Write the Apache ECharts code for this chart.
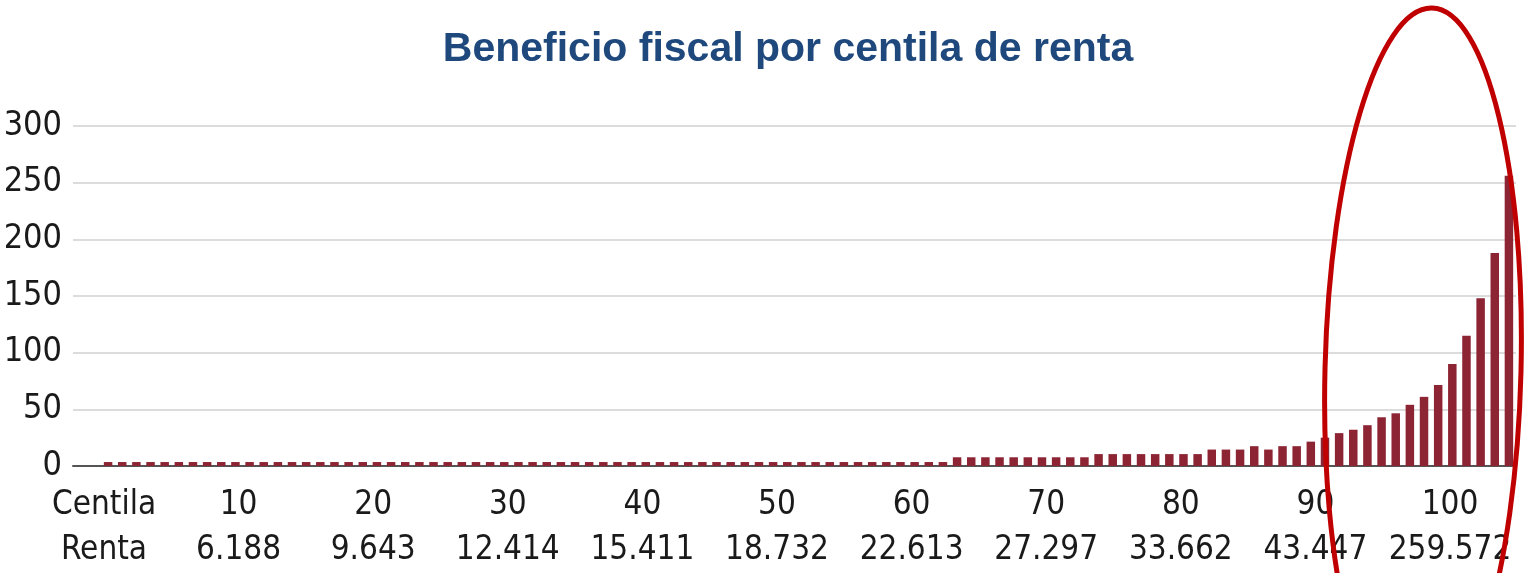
<!DOCTYPE html>
<html>
<head>
<meta charset="utf-8">
<script src="https://cdn.jsdelivr.net/npm/echarts@6/dist/echarts.min.js"></script>
<style>
  html, body { margin: 0; padding: 0; background: #fff; }
  #chart { width: 1524px; height: 573px; }
</style>
</head>
<body>
<div id="chart"></div>
<script>
// beneficio fiscal por centila (1..100)
const benefit = [
  3.5, 3.5, 3.5, 3.5, 3.5, 3.5, 3.5, 3.5, 3.5, 3.5,
  3.5, 3.5, 3.5, 3.5, 3.5, 3.5, 3.5, 3.5, 3.5, 3.5,
  3.5, 3.5, 3.5, 3.5, 3.5, 3.5, 3.5, 3.5, 3.5, 3.5,
  3.5, 3.5, 3.5, 3.5, 3.5, 3.5, 3.5, 3.5, 3.5, 3.5,
  3.5, 3.5, 3.5, 3.5, 3.5, 3.5, 3.5, 3.5, 3.5, 3.5,
  3.5, 3.5, 3.5, 3.5, 3.5, 3.5, 3.5, 3.5, 3.5, 3.5,
  7.7, 7.7, 7.7, 7.7, 7.7, 7.7, 7.7, 7.7, 7.7, 7.7,
  10.5, 10.5, 10.5, 10.5, 10.5, 10.5, 10.5, 10.5, 14.5, 14.5,
  14.5, 17.5, 14.5, 17.5, 17.5, 21.5, 25, 29, 32, 36,
  43, 46.5, 54, 61, 71.5, 90, 115, 148, 188, 256
]
const centiles = benefit.map((_, i) => String(i + 1))

// table under the axis
const centilaLabels = ['Centila', '10', '20', '30', '40', '50', '60', '70', '80', '90', '100']
const rentaLabels = ['Renta', '6.188', '9.643', '12.414', '15.411', '18.732', '22.613', '27.297', '33.662', '43.447', '259.572']
const tableCols = centilaLabels.map((c, i) => c + '\n' + rentaLabels[i])

const yTicks = { min: 0, max: 300, interval: 50 }

const font = '"DejaVu Sans Condensed", "DejaVu Sans", sans-serif'

const chart = echarts.init(document.getElementById('chart'))
chart.setOption({
  animation: false,
  title: {
    text: 'Beneficio fiscal por centila de renta',
    left: 783,
    top: 24,
    textAlign: 'center',
    textStyle: { fontFamily: '"Liberation Sans", Arial, sans-serif', fontSize: 41, fontWeight: 'bold', color: '#1F497D' }
  },
  grid: [
    { left: 73, right: 8, top: 126, bottom: 107 },
    { left: 101, right: 8, top: 126, bottom: 107 },
    { left: 104, right: 74, top: 126, bottom: 107 }
  ],
  xAxis: [
    {
      gridIndex: 0, type: 'category', data: [''],
      axisLine: { lineStyle: { color: '#555', width: 2 } },
      axisTick: { show: false }, axisLabel: { show: false }
    },
    {
      gridIndex: 1, type: 'category', data: centiles,
      axisLine: { show: false }, axisTick: { show: false }, axisLabel: { show: false }
    },
    {
      gridIndex: 2, type: 'category', data: tableCols, boundaryGap: false,
      axisLine: { show: false }, axisTick: { show: false },
      axisLabel: { interval: 0, margin: 18, fontFamily: font, fontSize: 33, lineHeight: 45, color: '#1a1a1a' }
    }
  ],
  yAxis: [
    {
      gridIndex: 0, type: 'value', ...yTicks,
      axisLine: { show: false }, axisTick: { show: false },
      axisLabel: { margin: 11, fontFamily: font, fontSize: 34, color: '#1a1a1a' },
      splitLine: { lineStyle: { color: '#dcdcdc', width: 2 } }
    },
    {
      gridIndex: 1, type: 'value', ...yTicks,
      axisLine: { show: false }, axisTick: { show: false }, axisLabel: { show: false }, splitLine: { show: false }
    },
    {
      gridIndex: 2, type: 'value', show: false
    }
  ],
  series: [
    {
      type: 'bar', xAxisIndex: 1, yAxisIndex: 1, data: benefit,
      barCategoryGap: '40%',
      itemStyle: { color: '#8C2434' }
    }
  ],
  graphic: [
    {
      // red highlight round the top centiles
      type: 'ellipse', z: 100,
      x: 1423, y: 370, rotation: -0.025,
      shape: { cx: 0, cy: 0, rx: 98, ry: 362 },
      style: { fill: 'none', stroke: '#C00000', lineWidth: 5 }
    }
  ]
})
</script>
</body>
</html>
